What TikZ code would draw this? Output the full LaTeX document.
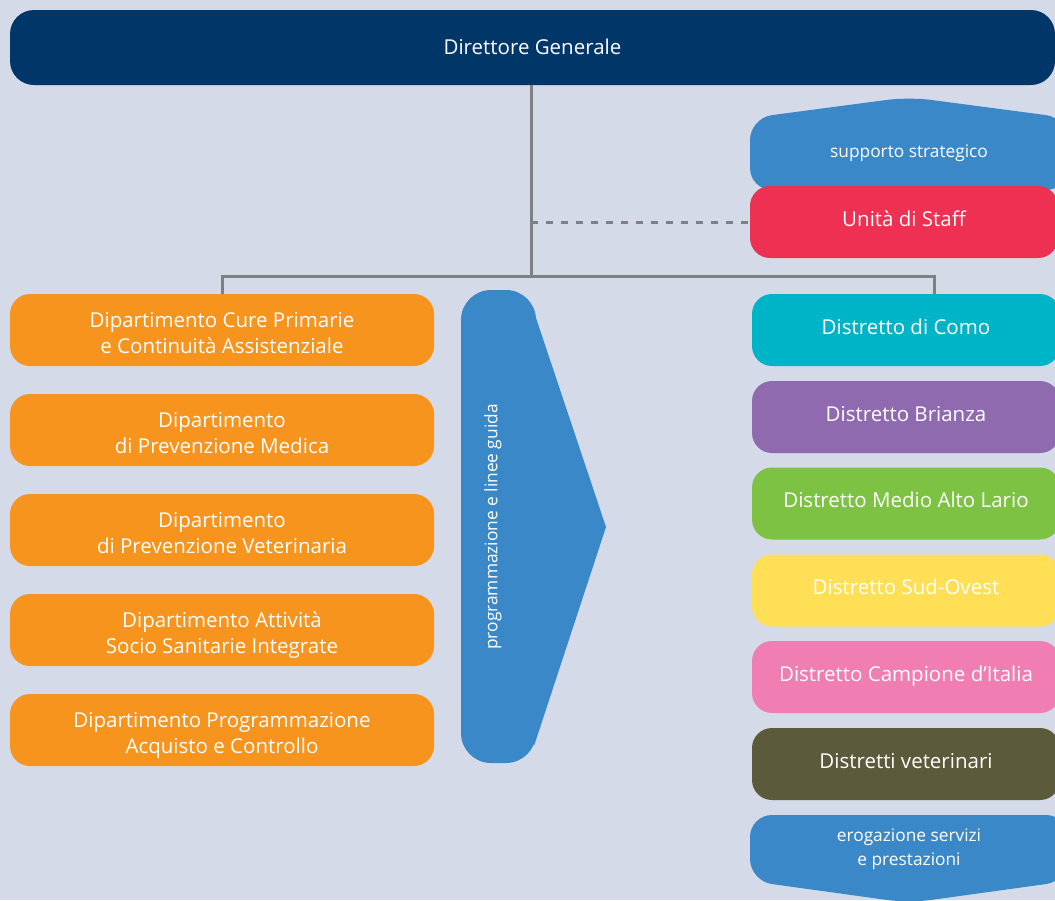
\documentclass[tikz,border=0pt]{standalone}
\usepackage{fontspec}
\setmainfont{Open Sans}
\definecolor{bgc}{HTML}{D4DAE8}
\definecolor{dgc}{HTML}{003668}
\definecolor{orc}{HTML}{F7941E}
\definecolor{blc}{HTML}{3A88C8}
\definecolor{rdc}{HTML}{EE3052}
\definecolor{cyc}{HTML}{00B4C8}
\definecolor{puc}{HTML}{8F6AAE}
\definecolor{grc}{HTML}{7DC242}
\definecolor{yec}{HTML}{FFDF55}
\definecolor{pic}{HTML}{F07EB2}
\definecolor{olc}{HTML}{5B5B3B}
\definecolor{lnc}{HTML}{808080}
\begin{document}
\begin{tikzpicture}[x=1pt,y=-1pt,
  box/.style={rectangle, rounded corners=20pt, minimum height=72pt, text=white,
    font=\fontsize{20.5}{25.5}\selectfont, align=center, inner sep=0pt},
  lbox/.style={box, fill=orc, minimum width=424pt, text height=48.5pt, text depth=2.5pt},
  rbox/.style={box, minimum width=308pt, text height=14.5pt, text depth=6pt},
  small/.style={text=white, font=\fontsize{17.3}{24}\selectfont, align=center, inner sep=0pt},
  conn/.style={draw=lnc, line width=3pt},
  dconn/.style={draw=lnc, line width=3pt, dash pattern=on 7pt off 8pt}]
\useasboundingbox (0,0) rectangle (1055,900);
\clip (0,0) rectangle (1055,900);
\fill[bgc] (0,0) rectangle (1055,900);

\node[box, fill=dgc, minimum width=1045pt, minimum height=75pt, rounded corners=24pt,
  text height=14.5pt, text depth=1pt] (dg) at (532.5,47.5) {Direttore Generale};
\coordinate (j) at (531,276);
\coordinate (jr) at (934,276);

% supporto strategico
\fill[blc, rounded corners=22pt] (909,97) -- (1068,118) -- (1068,190) -- (750,190) -- (750,118) -- cycle;
\node[small] (sup) at (909,153) {supporto strategico};
\node[rbox, fill=rdc] (staff) at (904,222) {Unità di Staff};

% left departments
\node[lbox] (d1) at (222,330) {Dipartimento Cure Primarie\\e Continuità Assistenziale};
\node[lbox] (d2) at (222,430) {Dipartimento\\di Prevenzione Medica};
\node[lbox] (d3) at (222,530) {Dipartimento\\di Prevenzione Veterinaria};
\node[lbox] (d4) at (222,630) {Dipartimento Attività\\Socio Sanitarie Integrate};
\node[lbox] (d5) at (222,730) {Dipartimento Programmazione\\Acquisto e Controllo};

% programmazione arrow
\fill[blc, rounded corners=30pt] (461,290) rectangle (536,763);
\fill[blc] (534,312) -- (606,527) -- (534,746) -- cycle;
\node[small, rotate=90] (prog) at (493,527) {programmazione e linee guida};

% districts
\node[rbox, fill=cyc] (r1) at (906,330) {Distretto di Como};
\node[rbox, fill=puc] (r2) at (906,417) {Distretto Brianza};
\node[rbox, fill=grc] (r3) at (906,503.5) {Distretto Medio Alto Lario};
\node[rbox, fill=yec] (r4) at (906,590.5) {Distretto Sud-Ovest};
\node[rbox, fill=pic] (r5) at (906,677) {Distretto Campione d’Italia};
\node[rbox, fill=olc] (r6) at (906,764) {Distretti veterinari};

% erogazione
\fill[blc, rounded corners=22pt] (909,903) -- (1068,881) -- (1068,815) -- (750,815) -- (750,881) -- cycle;
\node[small] (ero) at (909,849.5) {erogazione servizi\\e prestazioni};

% connector lines
\draw[conn] (dg.south -| j) -- (j);
\draw[conn] (d1.north) |- (jr) -- (jr |- r1.north);
\draw[dconn] (j |- staff.west) -- (staff.west);
\end{tikzpicture}
\end{document}
